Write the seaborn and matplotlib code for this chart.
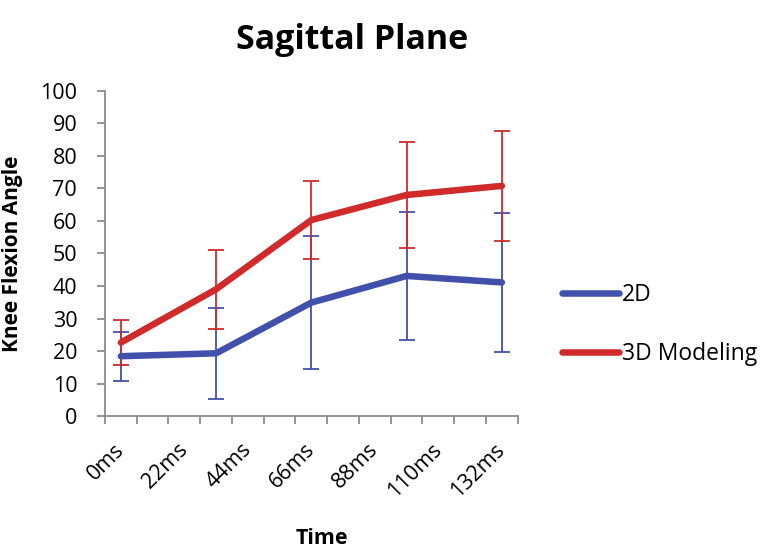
import numpy as np
import pandas as pd
import matplotlib
matplotlib.use('Agg')
import matplotlib.pyplot as plt
from matplotlib.lines import Line2D
import seaborn as sns

# category axis in 11 ms steps, labels on every second one
time_labels = ['0ms', '22ms', '44ms', '66ms', '88ms', '110ms', '132ms']
label_idx = [0, 2, 4, 6, 8, 10, 12]
n_cats = 13

# measurements sit on categories 0, 3, 6, 9, 12
sample_idx = [0, 3, 6, 9, 12]
val_2d = [18.4, 19.3, 34.9, 43.1, 41.1]
err_2d = [7.5, 14.0, 20.5, 19.7, 21.5]
val_3d = [22.6, 39.0, 60.3, 68.0, 70.8]
err_3d = [6.8, 12.2, 12.0, 16.2, 16.9]

blue = '#4150AA'
red = '#D12A2A'
grey = '#8c8c8c'

df = pd.DataFrame({
    'x': sample_idx * 2,
    'angle': val_2d + val_3d,
    'series': ['2D'] * 5 + ['3D Modeling'] * 5,
})

sns.set_style('white')
plt.rcParams['font.family'] = ['Open Sans', 'DejaVu Sans']
plt.rcParams['text.color'] = 'black'
plt.rcParams['axes.labelcolor'] = 'black'
plt.rcParams['xtick.color'] = 'black'
plt.rcParams['ytick.color'] = 'black'

fig = plt.figure(figsize=(7.73, 5.5), dpi=100)
ax = fig.add_axes([0.1358, 0.2436, 0.534, 0.591])

ax.errorbar(sample_idx, val_2d, yerr=err_2d, fmt='none', ecolor=blue,
            elinewidth=1.3, capsize=5.5, capthick=1.3, zorder=2)
ax.errorbar(sample_idx, val_3d, yerr=err_3d, fmt='none', ecolor=red,
            elinewidth=1.3, capsize=5.5, capthick=1.3, zorder=2)
sns.lineplot(data=df, x='x', y='angle', hue='series', palette=[blue, red],
             linewidth=4.7, ax=ax, legend=False, zorder=3,
             solid_capstyle='round')

ax.set_xlim(-0.5, n_cats - 0.5)
ax.set_ylim(0, 100)
ax.set_yticks(np.arange(0, 101, 10))
ax.set_xticks(label_idx)
ax.set_xticklabels(time_labels, rotation=45, ha='right', va='center',
                   rotation_mode='anchor')
ax.set_xticks(np.arange(-0.5, n_cats, 1), minor=True)
ax.tick_params(axis='x', which='major', length=0, labelsize=15.5, pad=22)
ax.tick_params(axis='x', which='minor', length=6, width=1.3, color=grey,
               direction='out', bottom=True)
ax.tick_params(axis='y', length=6, width=1.3, color=grey, direction='out',
               left=True, labelsize=15.5, pad=14, labelcolor='black')

for s in ['top', 'right']:
    ax.spines[s].set_visible(False)
for s in ['left', 'bottom']:
    ax.spines[s].set_color(grey)
    ax.spines[s].set_linewidth(1.3)

ax.set_xlabel('Time', fontsize=15.5, fontweight='bold')
ax.xaxis.set_label_coords(0.525, -0.345)
ax.set_ylabel('Knee Flexion Angle', fontsize=15, fontweight='bold')
ax.yaxis.set_label_coords(-0.198, 0.5)
fig.suptitle('Sagittal Plane', fontsize=24.5, fontweight='bold', x=0.455, y=0.958)

handles = [Line2D([], [], color=blue, lw=4.7, solid_capstyle='round'),
           Line2D([], [], color=red, lw=4.7, solid_capstyle='round')]
fig.legend(handles, ['2D', '3D Modeling'], loc='center left',
           bbox_to_anchor=(0.7, 0.41), frameon=False, fontsize=16.5,
           handlelength=2.5, handletextpad=0.12, labelspacing=1.55)

fig.savefig('out.png', dpi=100)
